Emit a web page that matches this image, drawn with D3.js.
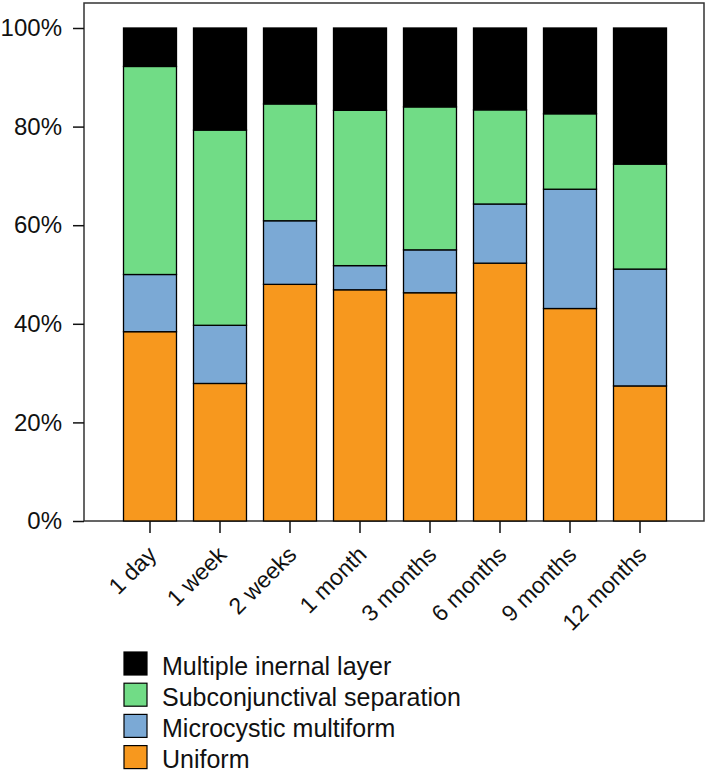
<!DOCTYPE html>
<html><head><meta charset="utf-8">
<script src="https://cdn.jsdelivr.net/npm/d3@7"></script>
<style>body{margin:0;background:#fff;} text{font-family:"Liberation Sans",Arial,sans-serif;fill:#111;}</style>
</head><body>
<svg id="c" width="709" height="777"></svg>
<script>
const categories = ["1 day","1 week","2 weeks","1 month","3 months","6 months","9 months","12 months"];
const uniform      = [38.4, 27.9, 48.0, 46.9, 46.3, 52.3, 43.1, 27.4];
const microcystic  = [11.6, 11.8, 12.9, 4.9, 8.7, 12.0, 24.2, 23.7];
const subconj      = [42.2, 39.6, 23.7, 31.5, 29.0, 19.1, 15.3, 21.3];
const multiple     = [7.8, 20.7, 15.4, 16.7, 16.0, 16.6, 17.4, 27.6];
const seriesNames  = ["Uniform","Microcystic multiform","Subconjunctival separation","Multiple inernal layer"];
const seriesColors = ["#F7981E","#7BA9D5","#71DC86","#000000"];
const yTicks = [0,20,40,60,80,100];

(function(){
const svg = d3.select("#c");
const pL=84, pR=704, pT=3, pB=521;
const x = d3.scaleBand().domain(categories).range([115,675]).paddingInner(0.243).paddingOuter(0.1215);
const y = d3.scaleLinear().domain([0,100]).range([521,28]);

const rows = categories.map((c,i)=>({cat:c, "Uniform":uniform[i], "Microcystic multiform":microcystic[i], "Subconjunctival separation":subconj[i], "Multiple inernal layer":multiple[i]}));
const stacked = d3.stack().keys(seriesNames)(rows);

svg.append("rect").attr("x",pL).attr("y",pT).attr("width",pR-pL).attr("height",pB-pT)
  .attr("fill","none").attr("stroke","#333").attr("stroke-width",1.5);

stacked.forEach((s,si)=>{
  svg.append("g").selectAll("rect").data(s).join("rect")
    .attr("x",d=>x(d.data.cat)).attr("width",x.bandwidth())
    .attr("y",d=>y(d[1])).attr("height",d=>y(d[0])-y(d[1]))
    .attr("fill",seriesColors[si]).attr("stroke","#000").attr("stroke-width",1.3);
});

const ya = svg.append("g").attr("transform",`translate(${pL},0)`)
  .call(d3.axisLeft(y).tickValues(yTicks).tickFormat(d=>d+"%").tickSize(11).tickPadding(11));
ya.select(".domain").remove();
ya.selectAll(".tick line").attr("stroke","#111").attr("stroke-width",1.5);
ya.selectAll("text").attr("font-size",24).attr("font-family","Liberation Sans, Arial, sans-serif").attr("fill","#111");

const xa = svg.append("g").attr("transform",`translate(0,${pB})`)
  .call(d3.axisBottom(x).tickSize(12).tickPadding(6));
xa.select(".domain").remove();
xa.selectAll(".tick line").attr("stroke","#111").attr("stroke-width",1.5);
xa.selectAll("text").attr("font-size",23).attr("font-family","Liberation Sans, Arial, sans-serif").attr("fill","#111")
  .attr("text-anchor","end").attr("dy","0")
  .attr("transform","translate(8,35) rotate(-45)").attr("y",0).attr("x",0);

const legendOrder = [3,2,1,0];
const lg = svg.append("g");
legendOrder.forEach((si,k)=>{
  const yy = 652 + k*31.2;
  lg.append("rect").attr("x",124).attr("y",yy).attr("width",23).attr("height",23)
    .attr("fill",seriesColors[si]).attr("stroke","#000").attr("stroke-width",1.2);
  lg.append("text").attr("x",162).attr("y",yy+22.5)
    .attr("font-size",25).text(seriesNames[si]);
});
})();
</script>
</body></html>
